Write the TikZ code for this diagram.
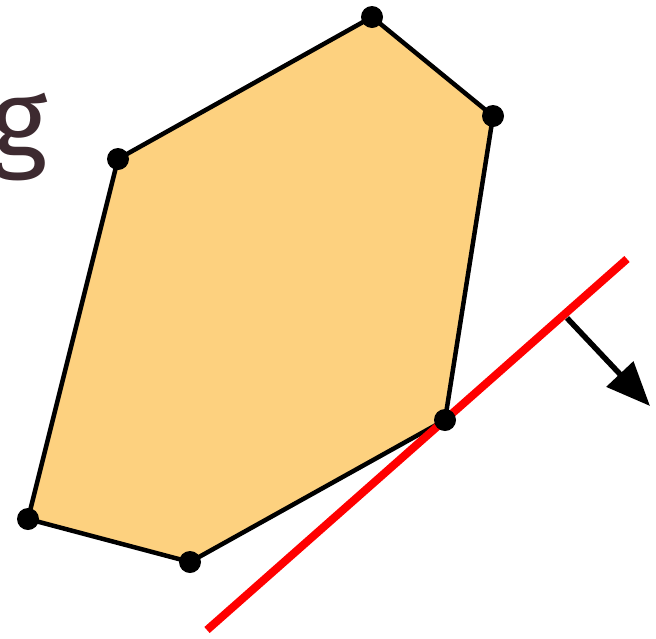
\documentclass[tikz,border=0pt]{standalone}
\usepackage{fontspec}
\setmainfont{Fira Sans}
\usetikzlibrary{arrows.meta}
\definecolor{polyfill}{HTML}{FDD17F}
\definecolor{gtext}{HTML}{3D2A30}
\definecolor{tangred}{HTML}{FF0000}
\tikzset{
  vtx/.style={circle,fill=black,inner sep=0pt,minimum size=22pt},
  poly/.style={draw=black,line width=4.5pt,fill=polyfill,line join=round},
  tangent/.style={draw=tangred,line width=8pt},
  normalarrow/.style={draw=black,line width=5.5pt,-{Triangle[length=44pt,width=36pt]}}
}
\begin{document}
\begin{tikzpicture}[x=1pt,y=-1pt]
\useasboundingbox (0,0) rectangle (656,638);
\node[anchor=base east,text=gtext,font=\fontsize{110}{120}\selectfont,inner sep=0pt] (g) at (48,157) {g};
\coordinate (A) at (372,17);
\coordinate (B) at (493,116);
\coordinate (C) at (445,420);
\coordinate (D) at (190,562);
\coordinate (E) at (28,519);
\coordinate (F) at (118,159);
\path[poly] (A) -- (B) -- (C) -- (D) -- (E) -- (F) -- cycle;
\coordinate (r1) at (207,630);
\coordinate (r2) at (627,259);
\draw[tangent] (r1) -- (r2);
\coordinate (n0) at (567,318);
\coordinate (n1) at (650,406);
\draw[normalarrow] (n0) -- (n1);
\foreach \v in {A,B,C,D,E,F} \node[vtx] (d\v) at (\v) {};
\end{tikzpicture}
\end{document}
